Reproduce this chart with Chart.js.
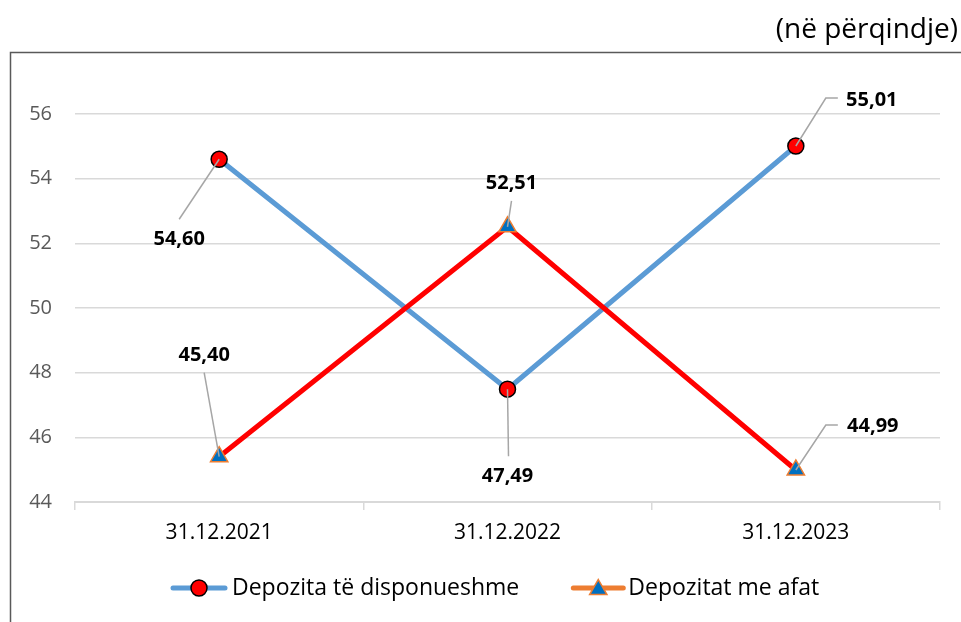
<!DOCTYPE html>
<html>
<head>
<meta charset="utf-8">
<script src="https://cdn.jsdelivr.net/npm/chart.js@4/dist/chart.umd.min.js"></script>
<style>
html,body{margin:0;padding:0;background:#fff;}
canvas{display:block;}
</style>
</head>
<body>
<canvas id="c" width="961" height="622"></canvas>
<script>
// ---- data ----
const categories = ['31.12.2021', '31.12.2022', '31.12.2023'];
const seriesNames = ['Depozita të disponueshme', 'Depozitat me afat'];
const disponueshme = [54.60, 47.49, 55.01];
const meAfat = [45.40, 52.51, 44.99];
const yMin = 44, yMax = 56, yStep = 2;
const unitNote = '(në përqindje)';

// ---- label placement (relative to the point) ----
const labelLayout = [
  [ {dx:-40, dy:80, leader:[[0,0],[-40,60]]},
    {dx:0, dy:87, leader:[[0,0],[1,67]]},
    {dx:76, dy:-46, leader:[[0,0],[30,-48],[42,-48]]} ],
  [ {dx:-15, dy:-101, leader:[[0,0],[-15,-84]]},
    {dx:4, dy:-44, leader:[[0,0],[4,-26]]},
    {dx:77, dy:-44, leader:[[0,0],[30,-45],[42,-45]]} ]
];

const FONT = "'Open Sans', 'DejaVu Sans', sans-serif";
Chart.defaults.font.family = FONT;

const legendStyle = [
  {line:'#5B9BD5', style:'circle', fill:'#FF0000', border:'#000000', radius:8, dy:0, len:56, textGap:5},
  {line:'#ED7D31', style:'triangle', fill:'#0070C0', border:'#ED7D31', radius:10, dy:1.5, len:54, textGap:3}
];

const decorPlugin = {
  id: 'decor',
  beforeDraw(chart) {
    const ctx = chart.ctx;
    ctx.save();
    ctx.strokeStyle = '#595959';
    ctx.lineWidth = 1.5;
    ctx.beginPath();
    ctx.moveTo(10.5, 622); ctx.lineTo(10.5, 52.5); ctx.lineTo(961, 52.5);
    ctx.stroke();
    ctx.fillStyle = '#000';
    ctx.font = "28px " + FONT;
    ctx.textAlign = 'right'; ctx.textBaseline = 'middle';
    ctx.fillText(unitNote, 958, 30);
    ctx.restore();
  },
  afterDatasetsDraw(chart) {
    const ctx = chart.ctx;
    ctx.save();
    chart.data.datasets.forEach((ds, di) => {
      const meta = chart.getDatasetMeta(di);
      meta.data.forEach((el, j) => {
        const L = labelLayout[di][j];
        const x = el.x, y = el.y;
        ctx.strokeStyle = '#A6A6A6'; ctx.lineWidth = 1.5;
        ctx.beginPath();
        L.leader.forEach((p, k) => {
          if (k === 0) ctx.moveTo(x + p[0], y + p[1]); else ctx.lineTo(x + p[0], y + p[1]);
        });
        ctx.stroke();
        ctx.fillStyle = '#000';
        ctx.font = "bold 20px " + FONT;
        ctx.textAlign = 'center'; ctx.textBaseline = 'middle';
        ctx.fillText(ds.data[j].toFixed(2).replace('.', ','), x + L.dx, y + L.dy);
      });
    });
    ctx.restore();
  },
  afterDraw(chart) {
    // legend: line sample + marker + series name
    const ctx = chart.ctx;
    ctx.save();
    ctx.font = "23px " + FONT;
    ctx.textBaseline = 'middle'; ctx.textAlign = 'left';
    const cy = 588;
    let x = 171;
    chart.data.datasets.forEach((ds, i) => {
      const s = legendStyle[i];
      ctx.strokeStyle = s.line; ctx.lineWidth = 5; ctx.lineCap = 'round';
      ctx.beginPath(); ctx.moveTo(x + 2, cy); ctx.lineTo(x + s.len - 2, cy); ctx.stroke();
      ctx.fillStyle = s.fill; ctx.strokeStyle = s.border; ctx.lineWidth = 1.5;
      Chart.helpers.drawPoint(ctx, {pointStyle: s.style, radius: s.radius, rotation: 0, borderWidth: 1.5}, x + s.len / 2, cy + s.dy);
      ctx.fillStyle = '#000';
      ctx.fillText(ds.label, x + s.len + s.textGap, cy);
      x += s.len + s.textGap + ctx.measureText(ds.label).width + 52;
    });
    ctx.restore();
  }
};

new Chart(document.getElementById('c'), {
  type: 'line',
  data: {
    labels: categories,
    datasets: [
      {
        label: seriesNames[0], data: disponueshme, order: 1,
        borderColor: '#5B9BD5', backgroundColor: '#FF0000', borderWidth: 5,
        pointStyle: 'circle', pointRadius: 8, pointBorderColor: '#000000',
        pointBackgroundColor: '#FF0000', pointBorderWidth: 1.5, tension: 0
      },
      {
        label: seriesNames[1], data: meAfat, order: 0,
        borderColor: '#ED7D31', backgroundColor: '#0070C0', borderWidth: 5,
        segment: { borderColor: '#FF0000' },
        pointStyle: 'triangle', pointRadius: 10, pointBorderColor: '#ED7D31',
        pointBackgroundColor: '#0070C0', pointBorderWidth: 1.5, tension: 0
      }
    ]
  },
  options: {
    responsive: false,
    animation: false,
    layout: { padding: { left: 0, right: 21, top: 114, bottom: 70 } },
    plugins: {
      title: { display: false },
      tooltip: { enabled: false },
      legend: { display: false }
    },
    scales: {
      x: {
        offset: true,
        grid: { offset: true, drawOnChartArea: false, drawTicks: true, tickLength: 8, color: '#D9D9D9', lineWidth: 1.5 },
        border: { display: true, color: '#D9D9D9', width: 2 },
        ticks: { color: '#000', font: { size: 21 }, padding: 10, maxRotation: 0 },
        afterFit(scale) { scale.height = 50; }
      },
      y: {
        min: yMin, max: yMax,
        grid: { color: '#D9D9D9', lineWidth: 1.5, drawTicks: false },
        border: { display: false },
        ticks: { stepSize: yStep, color: '#595959', font: { size: 20 }, padding: 23 },
        afterFit(scale) { scale.width = 75; }
      }
    }
  },
  plugins: [decorPlugin]
});
</script>
</body>
</html>
